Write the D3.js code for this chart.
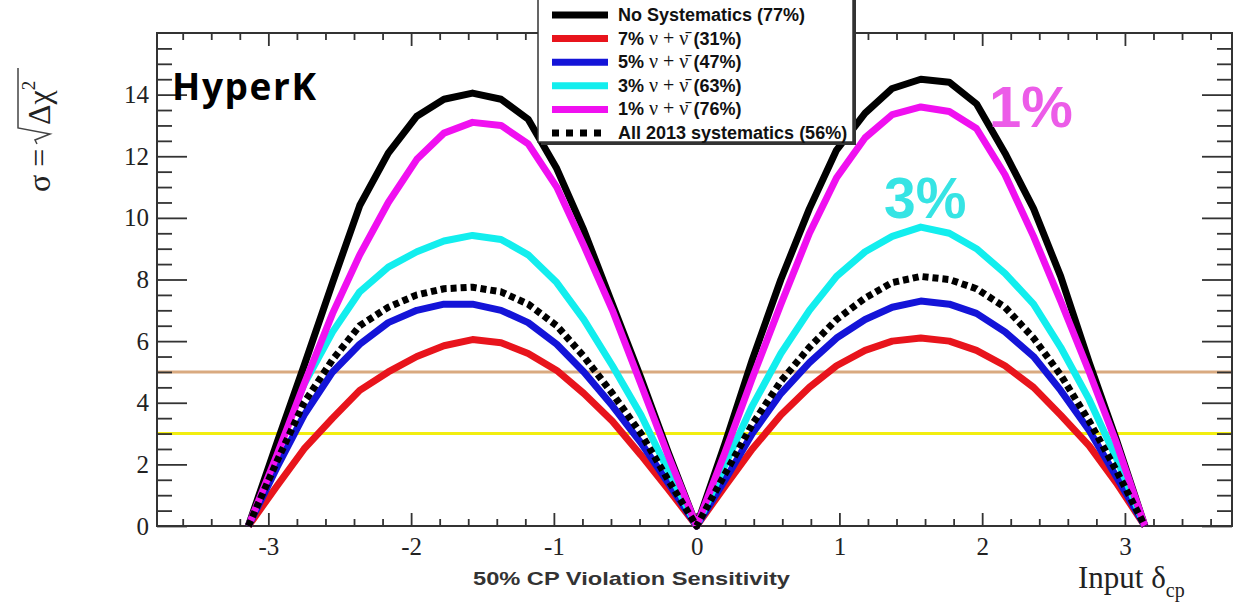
<!DOCTYPE html>
<html>
<head>
<meta charset="utf-8">
<script src="https://cdn.jsdelivr.net/npm/d3@7"></script>
<style>
  body { margin: 0; background: #fff; }
  svg { display: block; }
</style>
</head>
<body>
<div id="chart"></div>
<script>
// input delta_cp values (radians)
const deltaCP = [-3.14, -2.94, -2.75, -2.55, -2.36, -2.16, -1.96, -1.77, -1.57, -1.37, -1.18, -0.98, -0.79, -0.59, -0.39, -0.20, 0,
                 0.20, 0.39, 0.59, 0.79, 0.98, 1.18, 1.37, 1.57, 1.77, 1.96, 2.16, 2.36, 2.55, 2.75, 2.94, 3.14];

// sigma = sqrt(delta chi2) for each systematics scenario
const noSyst  = [0, 2.7, 5.2, 7.9, 10.4, 12.1, 13.3, 13.85, 14.05, 13.85, 13.2, 11.6, 9.6, 7.2, 4.8, 2.4, 0,
                 2.7, 5.4, 8.0, 10.3, 12.2, 13.4, 14.2, 14.5, 14.4, 13.7, 12.1, 10.3, 8.1, 5.3, 2.8, 0];
const syst7   = [0, 1.3, 2.5, 3.5, 4.4, 5.0, 5.5, 5.85, 6.05, 5.95, 5.6, 5.05, 4.3, 3.4, 2.3, 1.2, 0,
                 1.3, 2.5, 3.6, 4.5, 5.2, 5.7, 6.0, 6.1, 6.0, 5.7, 5.2, 4.5, 3.6, 2.6, 1.4, 0];
const syst5   = [0, 1.9, 3.6, 5.0, 5.9, 6.6, 7.0, 7.2, 7.2, 7.0, 6.6, 5.9, 5.0, 3.9, 2.7, 1.4, 0,
                 1.5, 3.0, 4.3, 5.3, 6.1, 6.7, 7.1, 7.3, 7.2, 6.9, 6.3, 5.5, 4.4, 3.1, 1.6, 0];
const syst3   = [0, 2.4, 4.6, 6.3, 7.6, 8.4, 8.9, 9.25, 9.43, 9.3, 8.8, 7.9, 6.7, 5.2, 3.6, 1.8, 0,
                 2.0, 3.9, 5.6, 7.0, 8.1, 8.9, 9.4, 9.7, 9.5, 9.0, 8.2, 7.2, 5.8, 4.1, 2.2, 0];
const syst1   = [0, 2.3, 4.6, 6.9, 8.8, 10.5, 11.9, 12.75, 13.1, 13.0, 12.4, 11.0, 9.1, 7.0, 4.6, 2.3, 0,
                 2.4, 4.8, 7.2, 9.5, 11.3, 12.6, 13.35, 13.6, 13.45, 12.9, 11.4, 9.4, 7.3, 5.0, 2.7, 0];
const all2013 = [0, 2.1, 4.0, 5.4, 6.5, 7.1, 7.5, 7.7, 7.75, 7.6, 7.2, 6.5, 5.5, 4.3, 3.0, 1.5, 0,
                 1.7, 3.3, 4.7, 5.8, 6.7, 7.4, 7.9, 8.1, 8.0, 7.7, 7.1, 6.1, 4.9, 3.4, 1.8, 0];

const sigmaLines = [5, 3];  // horizontal reference lines
const xTicks = [-3, -2, -1, 0, 1, 2, 3];
const yTicks = [0, 2, 4, 6, 8, 10, 12, 14];

const legendPct = ["(77%)", "(31%)", "(47%)", "(63%)", "(76%)", "(56%)"];

const W = 1242, H = 613;
const margin = {top: 33, right: 10, bottom: 87, left: 157};
const width = W - margin.left - margin.right,
      height = H - margin.top - margin.bottom;

const svg = d3.select("#chart").append("svg")
    .attr("width", W)
    .attr("height", H);

svg.append("rect").attr("width", W).attr("height", H).attr("fill", "#fff");

const g = svg.append("g").attr("transform", "translate(" + margin.left + "," + margin.top + ")");

const x = d3.scaleLinear().domain([-3.78, 3.75]).range([0, width]);
const y = d3.scaleLinear().domain([0, 16]).range([height, 0]);

const serif = "'Liberation Serif', 'DejaVu Serif', serif";
const sans = "'Liberation Sans', Arial, sans-serif";

// reference lines at 5 and 3 sigma
g.selectAll(".sigline")
  .data(sigmaLines)
  .enter().append("line")
    .attr("class", "sigline")
    .attr("x1", 0).attr("x2", width)
    .attr("y1", d => y(d)).attr("y2", d => y(d))
    .style("stroke", d => d == 5 ? "#d9aa80" : "#f2ee10")
    .style("stroke-width", 3);

// axes: ticks point inwards on all four sides
function styleAxis(sel) {
  sel.select(".domain").remove();
  sel.selectAll("line").style("stroke", "#333").style("stroke-width", 1.8);
  sel.selectAll("text").style("font-family", serif).style("font-size", "25px").style("fill", "#222");
}
const xMinor = d3.range(-3.6, 3.61, 0.2).filter(v => Math.abs(v - Math.round(v)) > 0.01);
const yMinor = d3.range(0, 16.01, 0.5).filter(v => v % 2 != 0);

g.append("g").attr("transform", "translate(0," + height + ")")
  .call(d3.axisBottom(x).tickValues(xTicks).tickSize(-13).tickPadding(11).tickFormat(d => String(d)))
  .call(styleAxis);
g.append("g").attr("transform", "translate(0," + height + ")")
  .call(d3.axisBottom(x).tickValues(xMinor).tickSize(-7).tickFormat(""))
  .call(styleAxis);
g.append("g")
  .call(d3.axisTop(x).tickValues(xTicks).tickSize(-13).tickFormat(""))
  .call(styleAxis);
g.append("g")
  .call(d3.axisTop(x).tickValues(xMinor).tickSize(-7).tickFormat(""))
  .call(styleAxis);
g.append("g")
  .call(d3.axisLeft(y).tickValues(yTicks).tickSize(-30).tickPadding(8))
  .call(styleAxis);
g.append("g")
  .call(d3.axisLeft(y).tickValues(yMinor).tickSize(-15).tickFormat(""))
  .call(styleAxis);
g.append("g").attr("transform", "translate(" + width + ",0)")
  .call(d3.axisRight(y).tickValues(yTicks).tickSize(-30).tickFormat(""))
  .call(styleAxis);
g.append("g").attr("transform", "translate(" + width + ",0)")
  .call(d3.axisRight(y).tickValues(yMinor).tickSize(-15).tickFormat(""))
  .call(styleAxis);

// frame
g.append("rect")
  .attr("width", width).attr("height", height)
  .attr("fill", "none")
  .style("stroke", "#333")
  .style("stroke-width", 2);

// curves
const series = [
  {name: "7%", values: syst7, color: "#e8141c", dash: null},
  {name: "5%", values: syst5, color: "#1414d8", dash: null},
  {name: "3%", values: syst3, color: "#12eeee", dash: null},
  {name: "none", values: noSyst, color: "#000", dash: null},
  {name: "1%", values: syst1, color: "#f010f0", dash: null},
  {name: "2013", values: all2013, color: "#000", dash: "6,4"}
];

const line = d3.line()
    .x((d, i) => x(deltaCP[i]))
    .y(d => y(d));

g.selectAll(".curve")
  .data(series)
  .enter().append("path")
    .attr("class", "curve")
    .attr("d", d => line(d.values))
    .attr("fill", "none")
    .style("stroke", d => d.color)
    .style("stroke-width", 7)
    .style("stroke-linejoin", "round")
    .style("stroke-dasharray", d => d.dash);

// labels inside the plot
svg.append("text")
  .attr("x", 172).attr("y", 100)
  .style("font-family", "'Open Sans', sans-serif")
  .style("font-weight", 700)
  .style("font-size", "37px")
  .attr("textLength", 144)
  .text("HyperK");

svg.append("text")
  .attr("x", 989).attr("y", 127)
  .style("font-family", sans).style("font-weight", 700).style("font-size", "58px")
  .style("fill", "#ec5ce8")
  .text("1%");

svg.append("text")
  .attr("x", 884).attr("y", 218)
  .style("font-family", sans).style("font-weight", 700).style("font-size", "57px")
  .style("fill", "#36e4e4")
  .text("3%");

// legend
const leg = svg.append("g").attr("class", "legend");
leg.append("rect").attr("x", 541).attr("y", -10).attr("width", 315).attr("height", 155).attr("fill", "#333");
leg.append("rect").attr("x", 538).attr("y", -10).attr("width", 315).attr("height", 152)
  .attr("fill", "#fff").style("stroke", "#333").style("stroke-width", 1.5);

const legRows = [
  {color: "#000", dash: null, pre: "No Systematics ", nu: false},
  {color: "#e8141c", dash: null, pre: "7% ", nu: true},
  {color: "#1414d8", dash: null, pre: "5% ", nu: true},
  {color: "#12eeee", dash: null, pre: "3% ", nu: true},
  {color: "#f010f0", dash: null, pre: "1% ", nu: true},
  {color: "#000", dash: "7,7", pre: "All 2013 systematics ", nu: false}
];

const rowY = d3.scaleLinear().domain([0, 5]).range([15, 133]);

const row = leg.selectAll(".row")
  .data(legRows)
  .enter().append("g")
    .attr("class", "row")
    .attr("transform", (d, i) => "translate(0," + rowY(i) + ")");

row.append("line")
  .attr("x1", 552).attr("x2", 608)
  .style("stroke", d => d.color)
  .style("stroke-width", 7)
  .style("stroke-dasharray", d => d.dash);

const rt = row.append("text")
  .attr("x", 618).attr("y", 6)
  .style("font-family", sans).style("font-weight", 700).style("font-size", "18px")
  .style("fill", "#111");
rt.append("tspan").text(d => d.pre);
rt.filter(d => d.nu).append("tspan")
  .style("font-family", serif).style("font-weight", 400).style("font-size", "20px")
  .text("\u03bd + \u03bd\u0304");
rt.append("tspan").text((d, i) => (d.nu ? " " : "") + legendPct[i]);

// y axis title: sigma = sqrt(delta chi^2), rotated
const yt = svg.append("g").attr("transform", "translate(50,192) rotate(-90)");
yt.append("text")
  .attr("x", 0).attr("y", 0)
  .style("font-family", serif).style("font-size", "32px").style("fill", "#222")
  .text("\u03c3 =");
yt.append("path")
  .attr("d", "M48,-13 L52,-15 L58,0 L64,-32 L124,-32")
  .attr("fill", "none")
  .style("stroke", "#444").style("stroke-width", 1.5);
const yt2 = yt.append("text")
  .attr("x", 67).attr("y", 0)
  .style("font-family", serif).style("font-size", "32px").style("fill", "#222");
yt2.append("tspan").text("\u0394\u03c7");
yt2.append("tspan").attr("dy", -15).style("font-size", "19px").text("2");

// x axis titles
svg.append("text")
  .attr("x", 473).attr("y", 585)
  .style("font-family", sans).style("font-weight", 700).style("font-size", "19px")
  .style("fill", "#333")
  .attr("textLength", 317)
  .attr("lengthAdjust", "spacingAndGlyphs")
  .text("50% CP Violation Sensitivity");

const xt = svg.append("text")
  .attr("x", 1078).attr("y", 588)
  .style("font-family", serif).style("font-size", "31px").style("fill", "#222");
xt.append("tspan").text("Input \u03b4");
xt.append("tspan").attr("dy", 9).style("font-size", "20px").text("cp");
</script>
</body>
</html>
